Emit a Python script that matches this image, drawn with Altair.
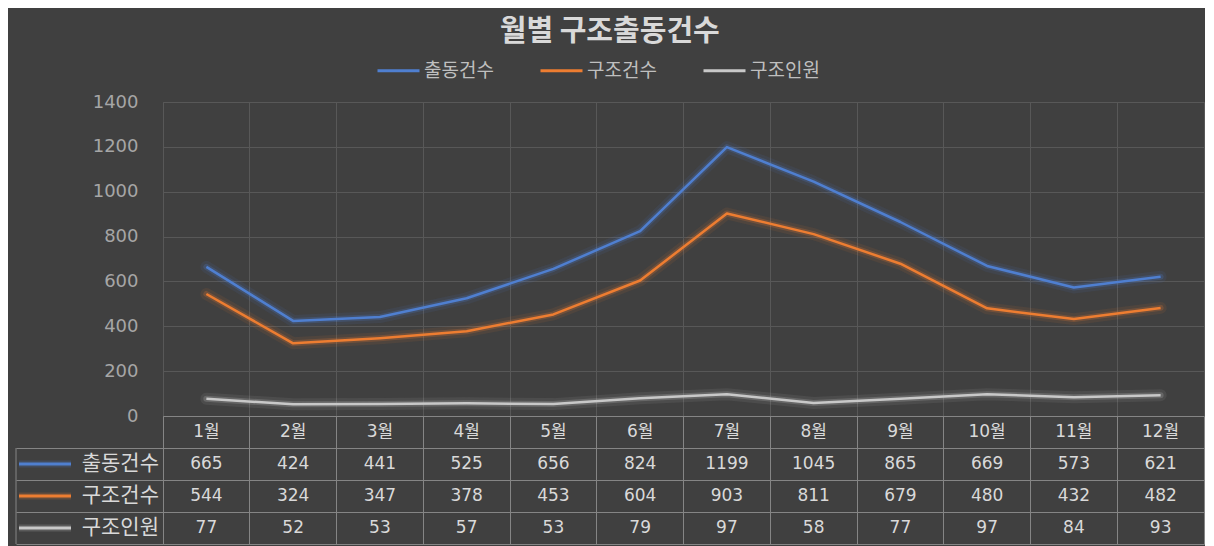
import altair as alt
import pandas as pd

# ---- data ----
months = ["1월", "2월", "3월", "4월", "5월", "6월", "7월", "8월", "9월", "10월", "11월", "12월"]
series = ["출동건수", "구조건수", "구조인원"]
dispatch = [665, 424, 441, 525, 656, 824, 1199, 1045, 865, 669, 573, 621]
rescue = [544, 324, 347, 378, 453, 604, 903, 811, 679, 480, 432, 482]
people = [77, 52, 53, 57, 53, 79, 97, 58, 77, 97, 84, 93]
y_ticks = [0, 200, 400, 600, 800, 1000, 1200, 1400]

colors = ["#4f7fd0", "#ed7d31", "#c8c8c8"]
BG = "#404040"
GRID = "#585858"
TGRID = "#858585"
TXT = "#d9d9d9"
KR = "Noto Sans CJK KR"
NUM = "DejaVu Sans, Noto Sans CJK KR"

PLOT_W = 1041
PLOT_H = 314
ROW_H = 32

header_key = "header"
rows = [header_key] + series

# long tables built from the arrays
line_records = []
for s, vals in zip(series, [dispatch, rescue, people]):
    for i, (m, v) in enumerate(zip(months, vals)):
        line_records.append({"월": m, "구분": s, "값": v, "idx": i})
line_df = pd.DataFrame(line_records)

table_records = []
for m in months:
    table_records.append({"월": m, "행": header_key, "텍스트": m})
for s, vals in zip(series, [dispatch, rescue, people]):
    for m, v in zip(months, vals):
        table_records.append({"월": m, "행": s, "텍스트": str(v)})
table_df = pd.DataFrame(table_records)
row_df = pd.DataFrame({"행": series})

# ---- top: line chart ----
x_top = alt.X(
    "월:N", sort=months,
    scale=alt.Scale(type="band", domain=months, paddingInner=0, paddingOuter=0),
    bandPosition=0.5,
    axis=alt.Axis(labels=False, ticks=False, domain=False, grid=True, gridColor=GRID,
                  bandPosition=0, title=None, minExtent=0, maxExtent=0),
)
y_top = alt.Y(
    "값:Q",
    scale=alt.Scale(domain=[0, 1400], nice=False),
    axis=alt.Axis(values=y_ticks, format="d", grid=True, gridColor=GRID, domain=False,
                  ticks=False, labelFont=NUM, labelFontSize=18, labelColor="#a6a6a6",
                  labelPadding=25, title=None),
)
legend = alt.Legend(
    orient="none", legendX=213, legendY=-54, direction="horizontal", title=None,
    symbolType="stroke", symbolSize=1764, symbolStrokeWidth=3, symbolOpacity=1,
    labelFont=KR, labelFontSize=19, labelColor="#bfbfbf", columnPadding=40,
    labelOffset=3, padding=0,
)
color = alt.Color("구분:N", scale=alt.Scale(domain=series, range=colors), sort=series, legend=legend)

base = alt.Chart(line_df).encode(x=x_top, y=y_top, color=color, order=alt.Order("idx:Q"))
glow1 = base.mark_line(strokeWidth=12, opacity=0.09, strokeCap="round", strokeJoin="round")
glow2 = base.mark_line(strokeWidth=6, opacity=0.22, strokeCap="round", strokeJoin="round")
main = base.mark_line(strokeWidth=2.5, strokeJoin="round")

top = alt.layer(glow1, glow2, main).properties(
    width=PLOT_W, height=PLOT_H, view=alt.ViewBackground(stroke=GRID)
)

# ---- bottom: data table ----
x_tab = alt.X(
    "월:N", sort=months,
    scale=alt.Scale(type="band", domain=months, paddingInner=0, paddingOuter=0),
    bandPosition=0.5,
    axis=alt.Axis(labels=False, ticks=False, domain=False, grid=True, gridColor=TGRID,
                  bandPosition=0, title=None, minExtent=0, maxExtent=0),
)
y_tab = alt.Y(
    "행:N", sort=rows,
    scale=alt.Scale(type="band", domain=rows, paddingInner=0, paddingOuter=0),
    bandPosition=0.5,
    axis=alt.Axis(labels=False, ticks=True, tickSize=147, tickColor=TGRID, bandPosition=1,
                  domain=False, grid=True, gridColor=TGRID, title=None),
)

values = alt.Chart(table_df).mark_text(
    font=NUM, fontSize=17, color=TXT, baseline="middle", align="center"
).encode(x=x_tab, y=y_tab, text="텍스트:N")

row_labels = alt.Chart(row_df).mark_text(
    font=KR, fontSize=21, color=TXT, baseline="middle", align="right"
).encode(x=alt.value(-4), y=y_tab, text="행:N")

stroke = alt.Stroke("행:N", scale=alt.Scale(domain=series, range=colors), legend=None)
swatch_glow = alt.Chart(row_df).mark_rule(strokeWidth=7, opacity=0.2).encode(
    x=alt.value(-144), x2=alt.value(-92), y=y_tab, stroke=stroke)
swatch = alt.Chart(row_df).mark_rule(strokeWidth=3).encode(
    x=alt.value(-144), x2=alt.value(-92), y=y_tab, stroke=stroke)

left_border = alt.Chart(pd.DataFrame({"a": [0]})).mark_rule(color=TGRID, strokeWidth=1).encode(
    x=alt.value(-147), y=alt.value(ROW_H), y2=alt.value(4 * ROW_H))

table = alt.layer(left_border, swatch_glow, swatch, row_labels, values).properties(
    width=PLOT_W, height=4 * ROW_H, view=alt.ViewBackground(stroke=TGRID)
)

chart = alt.vconcat(top, table, spacing=0, bounds="flush").properties(
    title=alt.TitleParams("월별 구조출동건수", font=KR, fontSize=29, fontWeight="bold",
                          color=TXT, anchor="middle", offset=1),
    background=BG,
    padding={"left": 7, "top": 9, "right": 0, "bottom": 1},
).resolve_scale(color="independent", stroke="independent")

chart.save("out.html", embed_options={"renderer": "svg", "actions": False})
